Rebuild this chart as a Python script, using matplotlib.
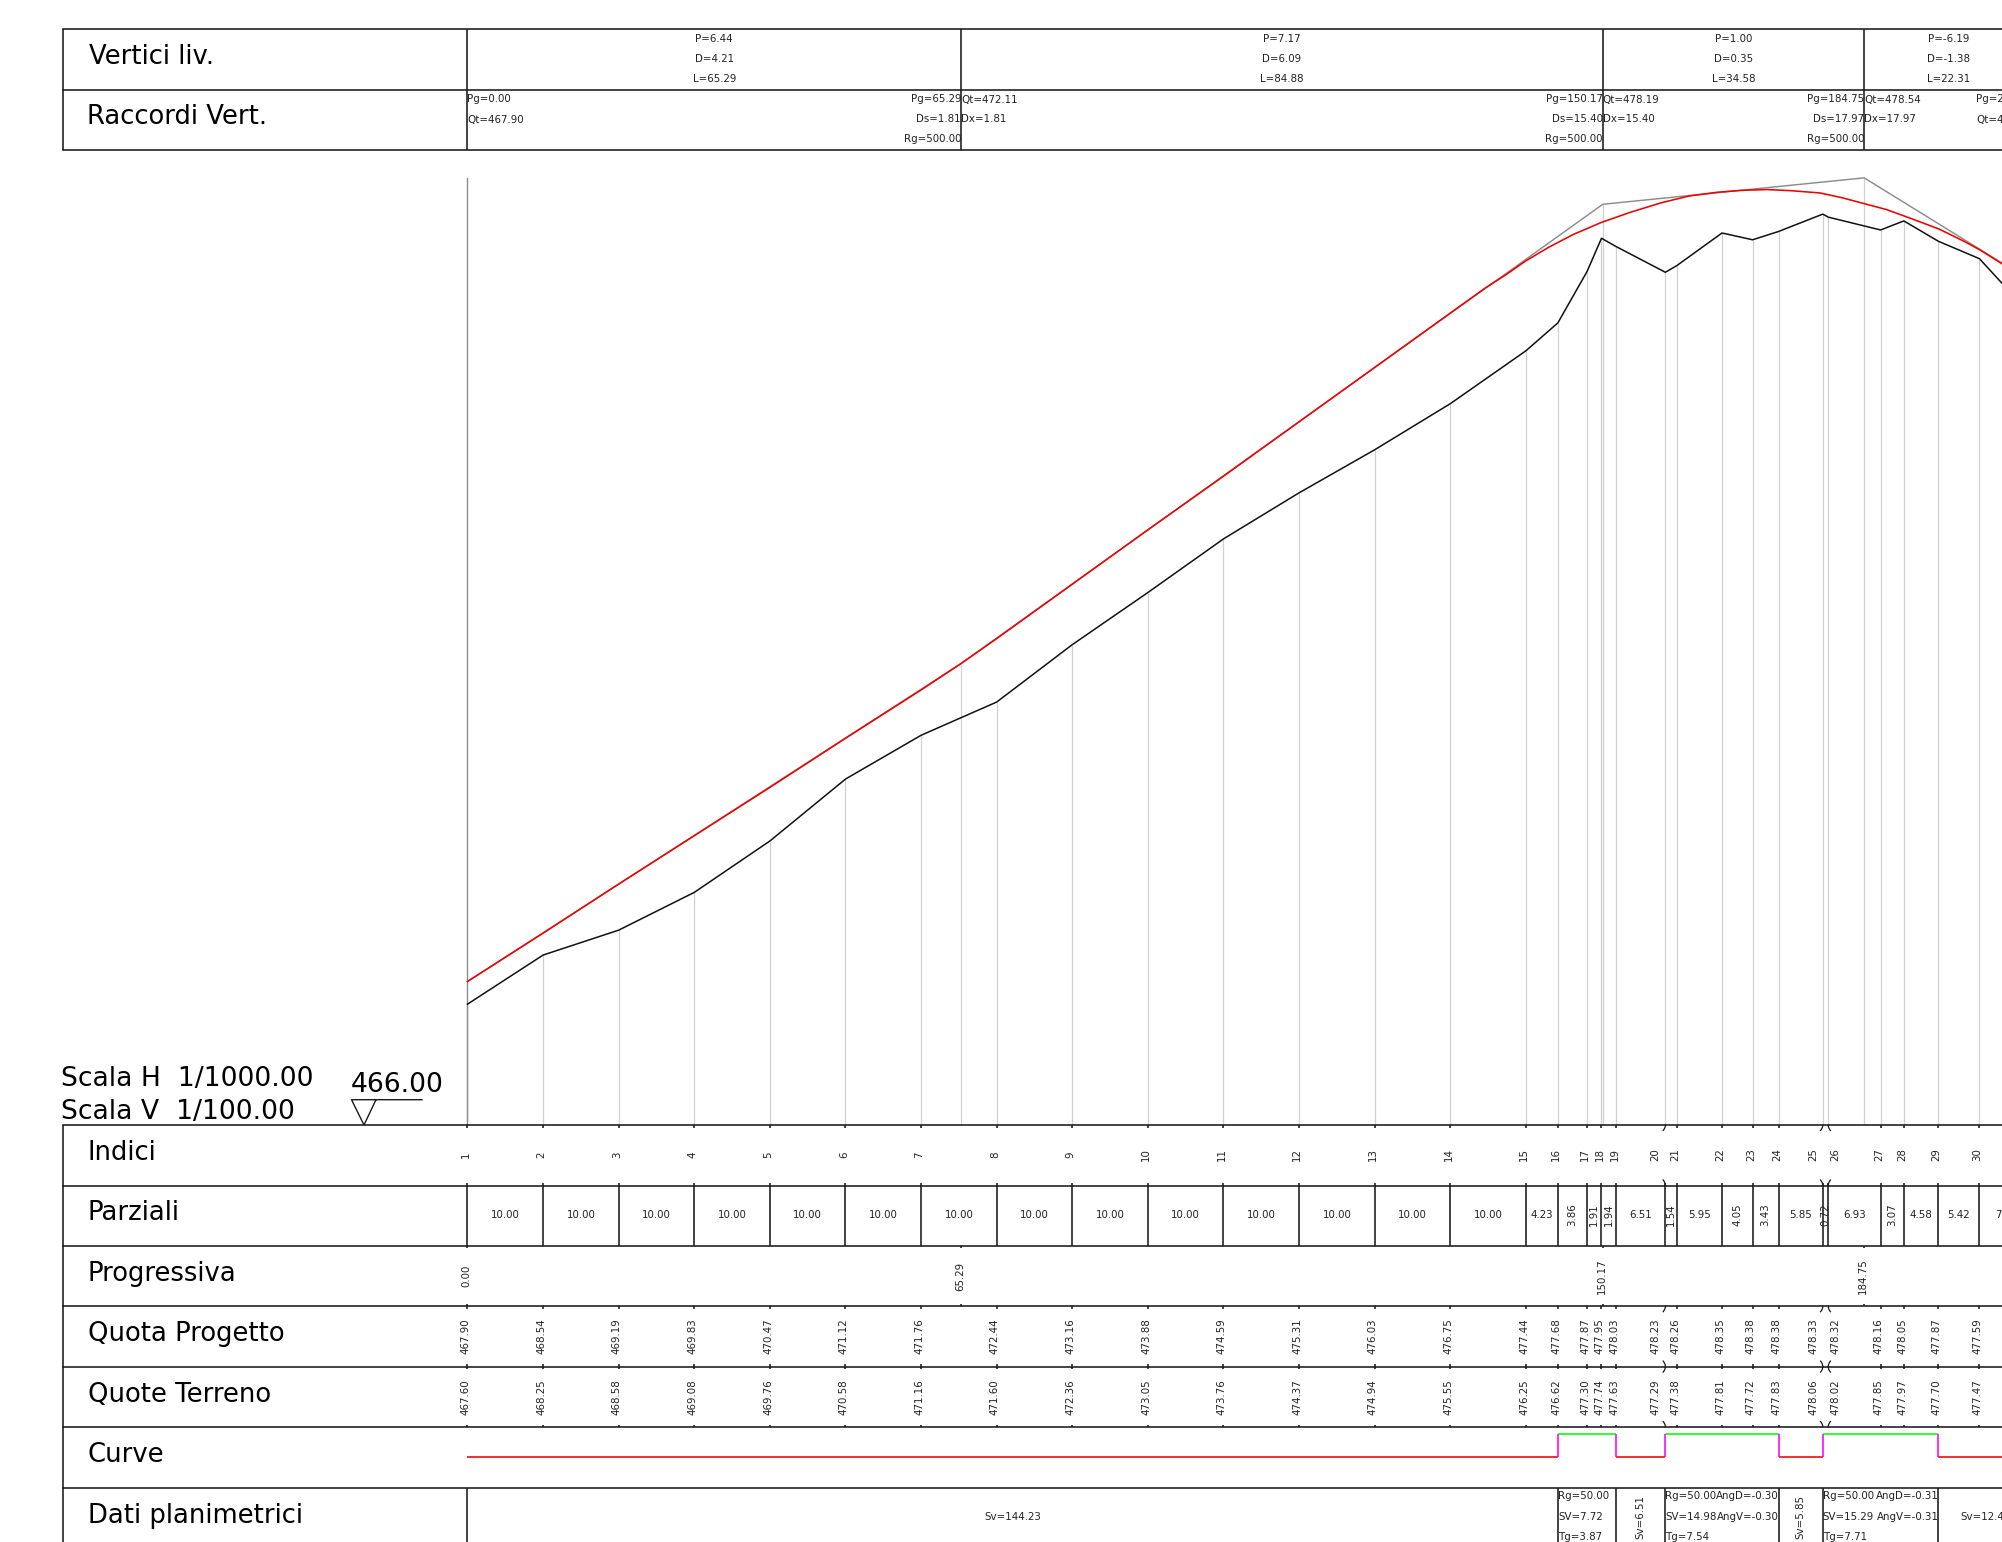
import numpy as np
import matplotlib
matplotlib.use('Agg')
import matplotlib.pyplot as plt

# Distances between sections (the last one runs off the sheet)
parziali = [10.00] * 14 + [4.23, 3.86, 1.91, 1.94, 6.51, 1.54, 5.95, 4.05, 3.43, 5.85,
                           0.72, 6.93, 3.07, 4.58, 5.42, 7.07]
parziali_labels = ['10.00'] * 14 + ['4.23', '3.86', '1.91', '1.94', '6.51', '1.54', '5.95', '4.05',
                                    '3.43', '5.85', '0.72', '6.93', '3.07', '4.58', '5.42', '7.07']
parziali_rotated = ['3.86', '1.91', '1.94', '1.54', '4.05', '3.43', '0.72', '3.07']

quota_progetto = [467.90, 468.54, 469.19, 469.83, 470.47, 471.12, 471.76, 472.44, 473.16, 473.88,
                  474.59, 475.31, 476.03, 476.75, 477.44, 477.68, 477.87, 477.95, 478.03, 478.23,
                  478.26, 478.35, 478.38, 478.38, 478.33, 478.32, 478.16, 478.05, 477.87, 477.59,
                  477.16]
quote_terreno = [467.60, 468.25, 468.58, 469.08, 469.76, 470.58, 471.16, 471.60, 472.36, 473.05,
                 473.76, 474.37, 474.94, 475.55, 476.25, 476.62, 477.30, 477.74, 477.63, 477.29,
                 477.38, 477.81, 477.72, 477.83, 478.06, 478.02, 477.85, 477.97, 477.70, 477.47,
                 476.70]

# Red line over the crest
crest_prog = [134.6, 137.4, 139.97, 143.0, 146.26, 149.99, 153.7, 157.9, 161.6, 165.4, 168.6, 171.9,
              175.1, 178.9, 181.7, 184.7, 187.7, 191.0, 194.7, 197.96, 199.99, 203.5]
crest_quota = [477.08, 477.26, 477.44, 477.62, 477.79, 477.95, 478.08, 478.21, 478.30, 478.35, 478.375,
               478.385, 478.37, 478.34, 478.28, 478.20, 478.12, 478.00, 477.86, 477.70, 477.59, 477.37]

# Vertical alignment vertices
vertici_prog = [0.00, 65.29, 150.17, 184.75, 207.06]
vertici_quota = [467.90, 472.11, 478.19, 478.54, 477.16]
vertici_p = ['P=6.44', 'P=7.17', 'P=1.00', 'P=-6.19']
vertici_d = ['D=4.21', 'D=6.09', 'D=0.35', 'D=-1.38']
vertici_l = ['L=65.29', 'L=84.88', 'L=34.58', 'L=22.31']
raccordi_start = [['Pg=0.00', 'Qt=467.90'], ['Qt=472.11', 'Dx=1.81'],
                  ['Qt=478.19', 'Dx=15.40'], ['Qt=478.54', 'Dx=17.97']]
raccordi_end = [['Pg=65.29', 'Ds=1.81', 'Rg=500.00'], ['Pg=150.17', 'Ds=15.40', 'Rg=500.00'],
                ['Pg=184.75', 'Ds=17.97', 'Rg=500.00'], ['Pg=207.06', 'Qt=477.16', '']]

# Plan alignment
curve_bordi = [0.00, 144.23, 151.94, 158.45, 173.42, 179.27, 194.57, 207.06]
curve_tipo = ['retta', 'curva', 'retta', 'curva', 'retta', 'curva', 'retta']
rette_labels = ['Sv=144.23', None, 'Sv=6.51', None, 'Sv=5.85', None, 'Sv=12.49']
curve_labels = [None, ['Rg=50.00', 'SV=7.72', 'Tg=3.87'], None, ['Rg=50.00', 'SV=14.98', 'Tg=7.54'],
                None, ['Rg=50.00', 'SV=15.29', 'Tg=7.71'], None]
curve_ang = [None, None, None, ['AngD=-0.30', 'AngV=-0.30'], None, ['AngD=-0.31', 'AngV=-0.31'], None]

row_names = ['Indici', 'Parziali', 'Progressiva', 'Quota Progetto', 'Quote Terreno', 'Curve', 'Dati planimetrici']

# Sheet layout, in pixels
W, H = 2002, 1542
X0 = 467.5
PX_M = 7.56
PX_Q = 75.53
Y_BASE = 1125
QUOTA_BASE = 466.00
LEFT = 62.5
ROWS_TOP = [29.3, 89.5, 150.0]
ROWS = [1125, 1185.5, 1245.8, 1306.2, 1366.6, 1427, 1487.6]
SMALL = 7.4
BIG = 18.6
DARK = '#1a1a1a'

prog = np.concatenate([[0], np.cumsum(parziali)])

fig = plt.figure(figsize=(W / 100, H / 100), dpi=100)
ax_q = fig.add_axes([0, 0, 1, 1])
ax_t = fig.add_axes([0, 0, 1, 1])
xlim = (-X0 / PX_M, (W - X0) / PX_M)
ax_q.set_xlim(xlim)
ax_q.set_ylim(QUOTA_BASE - (H - Y_BASE) / PX_Q, QUOTA_BASE + Y_BASE / PX_Q)
ax_t.set_xlim(xlim)
ax_t.set_ylim(H, 0)
ax_q.axis('off')
ax_t.axis('off')


def hline(y, x_from=None):
    ax_t.plot([(LEFT - X0) / PX_M if x_from is None else x_from, xlim[1]], [y, y], color=DARK, lw=1.15)


def vline(x, y1, y2, lw=1.15):
    ax_t.plot([x, x], [y1, y2], color=DARK, lw=lw, solid_capstyle='butt')


def small(x, y, s, ha='center', rot=0):
    ax_t.text(x, y, s, fontsize=SMALL, ha=ha, va='center', rotation=rot, color='#222222')


def bow(x, y, side, direction):
    t = np.linspace(0, 1, 6)
    ax_t.plot(x - direction * 2.2 * t ** 2 / PX_M, y + side * 5.5 * t, color=DARK, lw=0.9)


# Profile: guide lines, tangents, ground and project
ax_q.vlines(prog, QUOTA_BASE, quote_terreno, color='#d0d0d0', lw=0.9)
ax_q.vlines(vertici_prog[1:], QUOTA_BASE, vertici_quota[1:], color='#d0d0d0', lw=0.9)
ax_q.plot([0, 0], [QUOTA_BASE, max(vertici_quota)], color='#8c8c8c', lw=1.0)
ax_q.plot(vertici_prog, vertici_quota, color='#8c8c8c', lw=1.05)
ax_q.plot(prog, quote_terreno, color='#111111', lw=1.1)

# Straight part from the section values, then the read crest
straight = prog[:14] <= 130
red_x = np.concatenate([prog[:14][straight], [vertici_prog[1]], crest_prog])
red_y = np.concatenate([np.array(quota_progetto[:14])[straight], [vertici_quota[1]], crest_quota])
order = np.argsort(red_x)
ax_q.plot(red_x[order], red_y[order], color='#f00000', lw=1.15)

# Top table
for y in ROWS_TOP:
    hline(y)
vline((LEFT - X0) / PX_M, ROWS_TOP[0], ROWS_TOP[2])
for v in vertici_prog[:-1]:
    vline(v, ROWS_TOP[0], ROWS_TOP[2])
for i in range(4):
    mid = (vertici_prog[i] + vertici_prog[i + 1]) / 2
    small(mid, 38.5, vertici_p[i])
    small(mid, 58.5, vertici_d[i])
    small(mid, 78.5, vertici_l[i])
    for j, s in enumerate(raccordi_start[i]):
        small(vertici_prog[i], 99.5 + 20 * j, s, ha='left')
    for j, s in enumerate(raccordi_end[i]):
        small(vertici_prog[i + 1], 99.5 + 20 * j, s, ha='right')
ax_t.text((89 - X0) / PX_M, 57.5, 'Vertici liv.', fontsize=BIG, va='center', color='black')
ax_t.text((87 - X0) / PX_M, 117.5, 'Raccordi Vert.', fontsize=BIG, va='center', color='black')

# Scale block
ax_t.text((61 - X0) / PX_M, 1079, 'Scala H  1/1000.00', fontsize=19.2, va='center', color='black')
ax_t.text((61 - X0) / PX_M, 1112, 'Scala V  1/100.00', fontsize=19.2, va='center', color='black')
ax_t.text((351 - X0) / PX_M, 1085, '%.2f' % QUOTA_BASE, fontsize=19.2, va='center', color='black')
ax_t.plot((np.array([422, 351.5, 364, 376]) - X0) / PX_M, [1099.7, 1099.7, 1125, 1099.7], color=DARK, lw=1.0)

# Bottom table
for y in ROWS:
    hline(y)
vline((LEFT - X0) / PX_M, ROWS[0], H)
for name, y in zip(row_names, ROWS):
    ax_t.text((87.5 - X0) / PX_M, y + 28, name, fontsize=BIG, va='center', color='black')

for i, x in enumerate(prog):
    bowed = {19: 1, 24: 1, 25: -1}.get(i)
    # labels of bowed sections are pushed aside so they don't collide
    shift = {19: -10, 24: -9, 25: 7}.get(i, -1.7)
    lx = x + shift / PX_M
    # ticks on the rules
    for y, sides in [(ROWS[0], [1]), (ROWS[3], [1]), (ROWS[4], [-1, 1]), (ROWS[5], [-1])]:
        for side in sides:
            if bowed:
                bow(x, y, side, bowed)
            else:
                vline(x, y, y + side * 2.5)
    if bowed:
        bow(x, ROWS[1], -1, bowed)
    vline(x, ROWS[1] - 2.5, ROWS[2])
    ax_t.text(lx, (ROWS[0] + ROWS[1]) / 2 - 0.5, str(i + 1), fontsize=SMALL, rotation=90,
              ha='center', va='center', color='#222222')
    ax_t.text(lx, ROWS[3] + 48, '%.2f' % quota_progetto[i], fontsize=SMALL, rotation=90,
              ha='center', va='bottom', color='#222222')
    ax_t.text(lx, ROWS[4] + 48, '%.2f' % quote_terreno[i], fontsize=SMALL, rotation=90,
              ha='center', va='bottom', color='#222222')

for i, s in enumerate(parziali_labels):
    small((prog[i] + prog[i + 1]) / 2, 1214.5, s, rot=90 if s in parziali_rotated else 0)

# Progressive at the vertices
for v in vertici_prog[:-1]:
    vline(v, ROWS[2], ROWS[2] + 2.5)
    vline(v, ROWS[3], ROWS[3] - 2.5)
    ax_t.text(v - 1 / PX_M, (ROWS[2] + ROWS[3]) / 2, '%.2f' % v, fontsize=SMALL, rotation=90,
              ha='center', va='center', color='#222222')

# Curve row and plan data
Y_RETTA, Y_CURVA = 1457.3, 1434.3
for i, tipo in enumerate(curve_tipo):
    a, b = curve_bordi[i], curve_bordi[i + 1]
    y = Y_CURVA if tipo == 'curva' else Y_RETTA
    ax_t.plot([a, b], [y, y], color='#00ff00' if tipo == 'curva' else '#f00000', lw=1.15,
              solid_capstyle='butt')
    if i > 0:
        ax_t.plot([a, a], [Y_RETTA, Y_CURVA], color='#ff00ff', lw=1.15, solid_capstyle='butt')
    vline(a, ROWS[6], H)
    mid = (a + b) / 2
    if rette_labels[i]:
        small(mid, 1517, rette_labels[i], rot=0 if b - a > 10 else 90)
    if curve_labels[i]:
        for j, s in enumerate(curve_labels[i]):
            small(a, 1496 + 20.5 * j, s, ha='left')
    if curve_ang[i]:
        for j, s in enumerate(curve_ang[i]):
            small(b, 1496 + 20.5 * j, s, ha='right')

fig.savefig('out.png', dpi=100)
